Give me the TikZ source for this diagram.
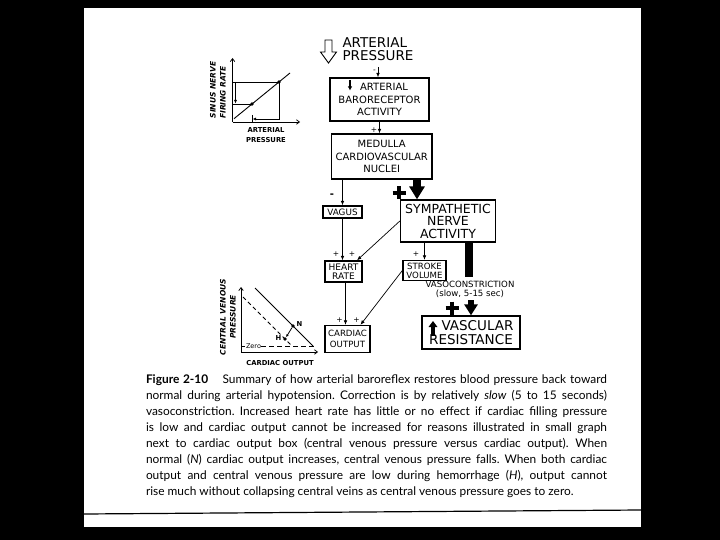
\documentclass[tikz,border=0pt]{standalone}
\usepackage{fontspec}
\setmainfont{Lato}
\newfontfamily\lettering{DejaVu Sans}
\usetikzlibrary{arrows.meta, positioning}

\newlength\capwd
\setlength\capwd{461pt}
\newcommand\capline[1]{\makebox[\capwd][s]{#1}}
\frenchspacing

\begin{document}
\begin{tikzpicture}[x=1pt, y=-1pt, >={Latex[length=4.5pt,width=3.6pt]},
    box/.style={draw, line width=1.3pt, inner sep=0pt, align=center},
    sign/.style={font=\lettering\fontsize{7.5}{7.5}\selectfont, inner sep=0pt},
    link/.style={->, line width=0.7pt},
    heavy/.style={line width=3.6pt},
    axis/.style={-{Straight Barb[length=3pt,width=4.5pt]}, line width=0.75pt},
    axlbl/.style={font=\lettering\bfseries\itshape\fontsize{7.5}{8}\selectfont, inner sep=0pt},
    ticklbl/.style={font=\lettering\bfseries\fontsize{6.8}{9.5}\selectfont, inner sep=0pt, align=center},
    dot/.style={circle, fill, inner sep=0pt, minimum size=3.6pt}]

  % page
  \fill[black] (0,0) rectangle (720,540);
  \fill[white] (84,8) rectangle (641,527);
  \useasboundingbox (0,0) rectangle (720,540);

  % flow chart
  \node[font=\lettering\fontsize{13.5}{13}\selectfont, align=left, inner sep=0pt] (press) at (378,49.5) {ARTERIAL\\PRESSURE};
  \draw[line width=0.9pt, fill=white] (325,40) -- (332,40) -- (332,52) -- (336.5,52) -- (328.5,63) -- (320.5,52) -- (325,52) -- cycle;

  \node[box, minimum width=99pt, minimum height=43pt, font=\lettering\fontsize{10}{12.2}\selectfont] (baro) at (379.5,99.5) {\hspace{9pt}ARTERIAL\\BARORECEPTOR\\ACTIVITY};
  \draw[line width=1.3pt, -{Latex[length=4pt,width=4.5pt]}] (350,80.5) -- (350,90.5);
  \node[box, minimum width=100.5pt, minimum height=45pt, font=\lettering\fontsize{10}{12.5}\selectfont] (med) at (381.75,156.5) {MEDULLA\\CARDIOVASCULAR\\NUCLEI};
  \node[box, minimum width=39pt, minimum height=12pt, font=\lettering\fontsize{8.8}{9}\selectfont] (vagus) at (342.5,212) {VAGUS};
  \node[box, minimum width=95pt, minimum height=42pt, font=\lettering\fontsize{12.5}{12.5}\selectfont] (symp) at (448,221) {SYMPATHETIC\\NERVE\\ACTIVITY};
  \node[box, minimum width=37pt, minimum height=21pt, font=\lettering\fontsize{9}{9.5}\selectfont] (heart) at (343.5,271.5) {HEART\\RATE};
  \node[box, minimum width=43pt, minimum height=20pt, font=\lettering\fontsize{8.6}{9.2}\selectfont] (stroke) at (424.5,270.5) {STROKE\\VOLUME};
  \node[box, minimum width=45pt, minimum height=27pt, font=\lettering\fontsize{8.6}{11}\selectfont] (cardiac) at (347.5,339) {CARDIAC\\OUTPUT};
  \node[box, minimum width=98pt, minimum height=33pt, font=\lettering\fontsize{13.5}{13.5}\selectfont] (vres) at (471,332.5) {\hspace{13pt}VASCULAR\\RESISTANCE};
  \draw[line width=3.2pt, -{Triangle[length=6pt,width=8.5pt]}] (433,335.5) -- (433,321);

  \node[font=\lettering\fontsize{8.6}{9}\selectfont, align=center, inner sep=0pt] (vaso) at (470,289) {VASOCONSTRICTION\\(slow, 5-15 sec)};
  \coordinate (vc) at (469,277);

  % connectors
  \draw[link] ([yshift=-6pt]press.south) -- (press.south |- baro.north);
  \draw[link] (baro.south) -- (baro.south |- med.north);
  \draw[link] (vagus.north |- med.south) -- (vagus.north);
  \draw[line width=8pt, -{Triangle[length=13pt,width=15pt]}] ([xshift=35.25pt]med.south) -- ([xshift=-31pt]symp.north);
  \draw[link] (vagus.south) -- (vagus.south |- heart.north);
  \draw[link] (symp.west) -- ([xshift=13.5pt]heart.north);
  \draw[link] (stroke.north |- symp.south) -- (stroke.north);
  \draw[link] ([xshift=2pt]heart.south) -- ([xshift=-2pt]cardiac.north);
  \draw[link] (stroke.west) -- ([xshift=13pt]cardiac.north);
  \draw[line width=8.5pt] (symp.south -| vc) -- (vc);
  \draw[line width=6pt, -{Triangle[length=11pt,width=13pt]}] ([yshift=-3pt]vaso.south -| vres.north) -- (vres.north);

  % signs
  \node[sign] at (374.5,71) {-};
  \node[sign] at (374,130.5) {+};
  \node[sign, font=\lettering\bfseries\fontsize{10}{10}\selectfont] at (332,196) {-};
  \foreach \sx/\sy in {336/254.5, 352/254.5, 416/254.5, 339.5/320, 356.5/320} {
    \node[sign] at (\sx,\sy) {+};
  }
  \draw[heavy] (399,186.5) -- (399,199.5) (392.5,193) -- (405.5,193);
  \draw[heavy] (452,301.5) -- (452,314.5) (445.5,308) -- (458.5,308);

  % baroreceptor curve
  \draw[axis] (232.5,122) -- (232.5,58);
  \draw[axis] (232.5,122) -- (300,122);
  \draw[line width=0.9pt] (234,118.7) -- (290,73);
  \draw[line width=0.8pt] (232.5,82) -- (279,82) -- (279,120);
  \draw[line width=0.8pt] (232.5,104) -- (252,104);
  \draw[line width=0.8pt] (252,115) -- (252,122);
  \draw[line width=0.8pt, -{Latex[length=3.5pt,width=3pt]}] (235.5,82) -- (235.5,103.5);
  \draw[line width=0.8pt, -{Latex[length=3.5pt,width=3pt]}] (279,119) -- (252.5,119);
  \node[dot] (hi) at (279,82) {};
  \node[dot] (lo) at (252,104) {};
  \node[axlbl, rotate=90] at (213,90) {SINUS NERVE};
  \node[axlbl, rotate=90] at (223,92.5) {FIRING RATE};
  \node[ticklbl] at (266,135) {ARTERIAL\\PRESSURE};

  % venous return graph
  \draw[axis] (241,352) -- (241,287);
  \draw[axis] (241,352) -- (318,352);
  \draw[line width=0.8pt] (255,288) -- (313,346);
  \draw[line width=0.8pt, dashed, dash pattern=on 4pt off 3pt] (243,297) -- (292,346);
  \draw[line width=0.8pt] (241,346) -- (245,346);
  \node[font=\lettering\fontsize{6.5}{7}\selectfont, inner sep=0pt] (zero) at (253.5,346) {Zero};
  \draw[line width=0.8pt, dashed, dash pattern=on 5pt off 3pt] (zero.east) -- (316,346);
  \node[dot] (ptN) at (293,326) {};
  \node[dot] (ptH) at (285,339) {};
  \draw[line width=0.8pt, -{Latex[length=3pt,width=2.6pt]}] (ptN) -- (ptH);
  \node[ticklbl, right=1.5pt of ptN, yshift=2pt] {N};
  \node[ticklbl, left=1.5pt of ptH, yshift=1pt] {H};
  \node[axlbl, rotate=90] at (223,317) {CENTRAL VENOUS};
  \node[axlbl, rotate=90] at (233,317) {PRESSURE};
  \node[ticklbl] at (280,363) {CARDIAC OUTPUT};

  % caption
  \node[font=\fontsize{11.9}{16}\selectfont, align=left, inner sep=0pt] (cap) at (376.5,436) {%
    \capline{\textbf{Figure 2-10}\hspace{1.2em}Summary of how arterial baroreflex restores blood pressure back toward}\\
    \capline{normal during arterial hypotension. Correction is by relatively \textit{slow} (5 to 15 seconds)}\\
    \capline{vasoconstriction. Increased heart rate has little or no effect if cardiac filling pressure}\\
    \capline{is low and cardiac output cannot be increased for reasons illustrated in small graph}\\
    \capline{next to cardiac output box (central venous pressure versus cardiac output). When}\\
    \capline{normal (\textit{N}) cardiac output increases, central venous pressure falls. When both cardiac}\\
    \capline{output and central venous pressure are low during hemorrhage (\textit{H}), output cannot}\\
    \makebox[\capwd][l]{rise much without collapsing central veins as central venous pressure goes to zero.}};
  \draw[line width=1.2pt] (84,514) -- (641,510);

\end{tikzpicture}
\end{document}
